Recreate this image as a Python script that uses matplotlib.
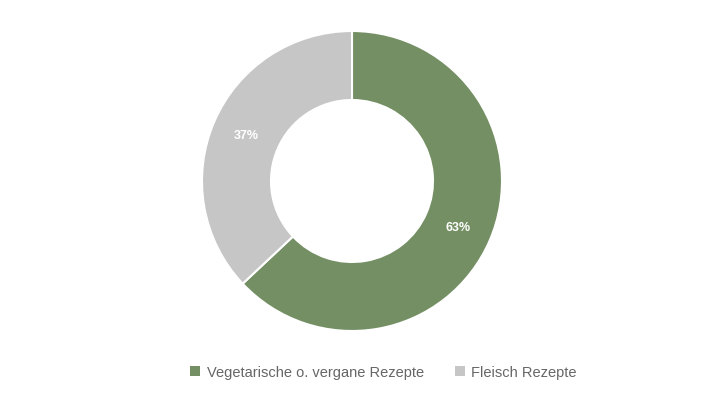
import matplotlib
matplotlib.use("Agg")
import matplotlib.pyplot as plt
from matplotlib.patches import Patch

categories = ["Vegetarische o. vergane Rezepte", "Fleisch Rezepte"]
values = [63, 37]
labels = ["63%", "37%"]
colors = ["#748f63", "#c6c6c6"]

plt.rcParams['font.family'] = ['Liberation Sans', 'DejaVu Sans']

W, H = 728, 410
fig = plt.figure(figsize=(W/100, H/100), dpi=100)
cx, cy, R = 352, 182, 150
ax = fig.add_axes([(cx-R)/W, (H-cy-R)/H, 2*R/W, 2*R/H])
wedges, texts = ax.pie(values, colors=colors, startangle=90, counterclock=False,
                       radius=1, wedgeprops=dict(width=0.46, edgecolor="white", linewidth=1.5),
                       labels=labels, labeldistance=0.77,
                       textprops=dict(color="white", fontsize=9, fontweight="bold"))
for t in texts:
    t.set_horizontalalignment("center")
    t.set_verticalalignment("center")
ax.set_xlim(-1, 1)
ax.set_ylim(-1, 1)
ax.set_aspect("equal")
ax.axis("off")

handles = [Patch(facecolor=c, edgecolor="none") for c in colors]
leg = fig.legend(handles, categories, loc="center", bbox_to_anchor=(383.5/W, 1-373/H),
                 ncol=2, frameon=False, fontsize=10.5, handlelength=0.7, handleheight=0.7,
                 handletextpad=0.45, columnspacing=2.1, labelcolor="#666666")
fig.savefig("out.png", dpi=100, facecolor="white")
